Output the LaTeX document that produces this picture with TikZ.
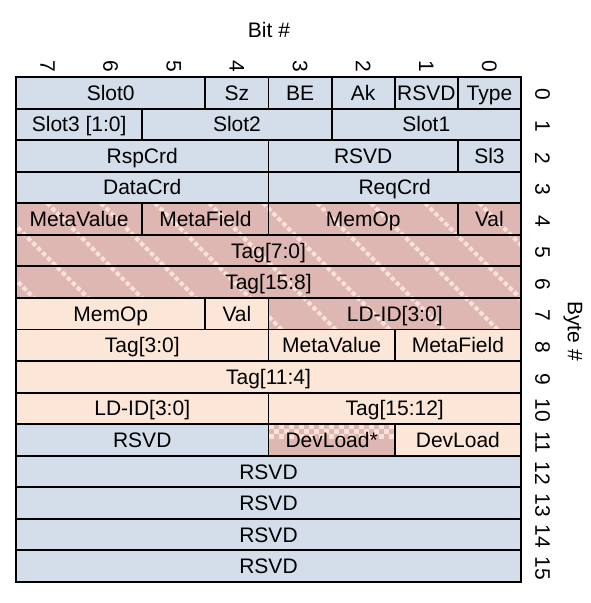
\documentclass[tikz,border=0pt]{standalone}
\usepackage{fontspec}
\setmainfont{Liberation Sans}
\usetikzlibrary{backgrounds}

\definecolor{fblue}{HTML}{D3DEEA}
\definecolor{fpink}{HTML}{DEB6B2}
\definecolor{fpeach}{HTML}{FCE6D8}
\definecolor{fstripe}{HTML}{FAE2D8}

% one bit column is BitW wide, one byte row is RowH high
\newcommand\BitW{63.125}
\newcommand\RowH{31.5625}

\tikzset{
  fld/.style={draw=black, line width=1.9pt, inner sep=0pt, outer sep=0pt,
    text height=15pt, text depth=0pt,
    font=\fontsize{21}{24}\selectfont},
  lbl/.style={inner sep=0pt, font=\fontsize{21}{24}\selectfont},
  stripe/.style={draw=fstripe, line width=4pt, dash pattern=on 4.5pt off 2.5pt},
}

% field: name, first bit column (from the left), width in bits, byte row, fill, text
\newcommand\fld[6]{%
  \node[fld, minimum width={#3*\BitW pt}, minimum height={\RowH pt}] (#1)
    at ({16+(#2+#3/2)*\BitW},{77+(#4+0.5)*\RowH}) {#6};
  \begin{pgfonlayer}{background}
    \fill[#5] (#1.south west) rectangle (#1.north east);
  \end{pgfonlayer}}

% diagonal hatching under a field
\newcommand\hatch[1]{%
  \begin{pgfonlayer}{background}
    \begin{scope}
      \clip (#1.south west) rectangle (#1.north east);
      \foreach \k in {-8,...,8}
        \draw[stripe] ({6+54*\k},0) -- ({626+54*\k},620);
    \end{scope}
  \end{pgfonlayer}}

\begin{document}
\begin{tikzpicture}[x=1pt,y=-1pt]
\useasboundingbox (0,0) rectangle (590,603);

% byte 0
\fld{slotzero}{0}{3}{0}{fblue}{Slot0}
\fld{sz}{3}{1}{0}{fblue}{Sz}
\fld{be}{4}{1}{0}{fblue}{BE}
\fld{ak}{5}{1}{0}{fblue}{Ak}
\fld{rsvdA}{6}{1}{0}{fblue}{RSVD}
\fld{type}{7}{1}{0}{fblue}{Type}
% byte 1
\fld{slotthree}{0}{2}{1}{fblue}{Slot3 [1:0]}
\fld{slottwo}{2}{3}{1}{fblue}{Slot2}
\fld{slotone}{5}{3}{1}{fblue}{Slot1}
% byte 2
\fld{rspcrd}{0}{4}{2}{fblue}{RspCrd}
\fld{rsvdB}{4}{3}{2}{fblue}{RSVD}
\fld{slthree}{7}{1}{2}{fblue}{Sl3}
% byte 3
\fld{datacrd}{0}{4}{3}{fblue}{DataCrd}
\fld{reqcrd}{4}{4}{3}{fblue}{ReqCrd}
% byte 4
\fld{metavalA}{0}{2}{4}{fpink}{MetaValue}
\fld{metafldA}{2}{2}{4}{fpink}{MetaField}
\fld{memopA}{4}{3}{4}{fpink}{MemOp}
\fld{valA}{7}{1}{4}{fpink}{Val}
\hatch{metavalA}\hatch{metafldA}\hatch{memopA}\hatch{valA}
% bytes 5 and 6
\fld{tagA}{0}{8}{5}{fpink}{Tag[7:0]}
\fld{tagB}{0}{8}{6}{fpink}{Tag[15:8]}
\hatch{tagA}\hatch{tagB}
% byte 7
\fld{memopB}{0}{3}{7}{fpeach}{MemOp}
\fld{valB}{3}{1}{7}{fpeach}{Val}
\fld{ldidA}{4}{4}{7}{fpink}{LD-ID[3:0]}
\hatch{ldidA}
% byte 8
\fld{tagC}{0}{4}{8}{fpeach}{Tag[3:0]}
\fld{metavalB}{4}{2}{8}{fpeach}{MetaValue}
\fld{metafldB}{6}{2}{8}{fpeach}{MetaField}
% byte 9
\fld{tagD}{0}{8}{9}{fpeach}{Tag[11:4]}
% byte 10
\fld{ldidB}{0}{4}{10}{fpeach}{LD-ID[3:0]}
\fld{tagE}{4}{4}{10}{fpeach}{Tag[15:12]}
% byte 11
\fld{rsvdC}{0}{4}{11}{fblue}{RSVD}
\fld{devloadA}{4}{2}{11}{fpink}{DevLoad*}
\fld{devloadB}{6}{2}{11}{fpeach}{DevLoad}
% checker texture of DevLoad*
\begin{pgfonlayer}{background}
  \begin{scope}
    \clip (devloadA.south west) rectangle (devloadA.north east);
    \foreach \i in {0,2,...,26} {
      \fill[fstripe] ({268.5+5*\i},424.2) rectangle ++(5,5);
      \fill[fstripe] ({268.5+5*\i},434.2) rectangle ++(5,5);
    }
    \foreach \i in {1,3,...,25}
      \fill[fstripe] ({268.5+5*\i},429.2) rectangle ++(5,5);
  \end{scope}
\end{pgfonlayer}
% bytes 12 to 15
\fld{rsvdD}{0}{8}{12}{fblue}{RSVD}
\fld{rsvdE}{0}{8}{13}{fblue}{RSVD}
\fld{rsvdF}{0}{8}{14}{fblue}{RSVD}
\fld{rsvdG}{0}{8}{15}{fblue}{RSVD}

% axis labels
\node[lbl] (bithdr) at (269,30) {Bit \#};
\foreach \b in {0,...,7}
  \node[lbl, rotate=-90] (bit\b) at ({16+(7-\b+0.5)*\BitW},66) {\b};
\foreach \r in {0,...,15}
  \node[lbl, rotate=-90] (byte\r) at (542.5,{77+(\r+0.5)*\RowH+2}) {\r};
\node[lbl, rotate=-90] (bytehdr) at (573,331) {Byte \#};
\end{tikzpicture}
\end{document}
